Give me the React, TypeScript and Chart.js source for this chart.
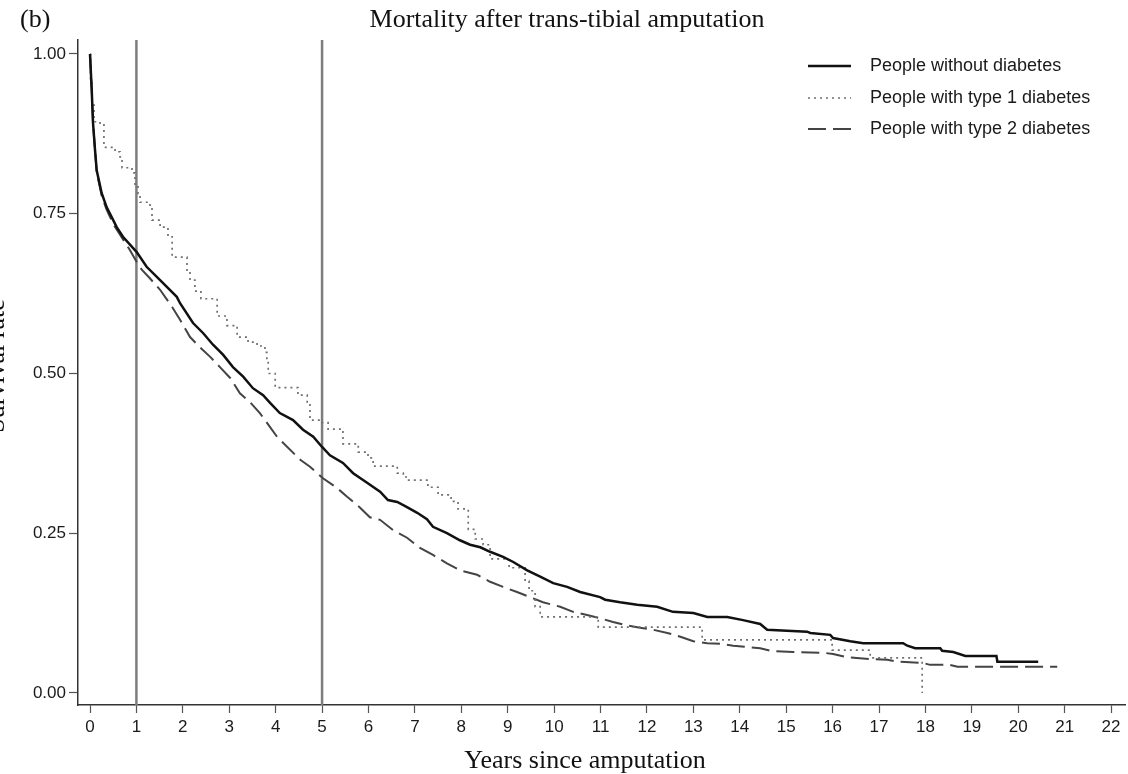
import { useEffect, useRef } from "react";
import { Chart, registerables } from "chart.js";

Chart.register(...registerables);

const chartTitle = "Mortality after trans-tibial amputation";
const panelLabel = "(b)";
const xAxisTitle = "Years since amputation";
const yAxisTitle = "Survival rate";

const xTickValues = [0, 1, 2, 3, 4, 5, 6, 7, 8, 9, 10, 11, 12, 13, 14, 15, 16, 17, 18, 19, 20, 21, 22];
const yTickValues = [0, 0.25, 0.5, 0.75, 1];
const referenceYears = [1, 5];

const seriesLabels = ["People without diabetes", "People with type 1 diabetes", "People with type 2 diabetes"];

// People without diabetes
const noDiabetesYears = [
  0, 0.037, 0.065, 0.108, 0.144, 0.252, 0.36, 0.5, 0.575, 0.71, 1.006, 1.22, 1.51, 1.87, 1.94, 2.22, 2.44,
  2.65, 2.87, 3.08, 3.3, 3.51, 3.73, 3.88, 4.09, 4.375, 4.59, 4.81, 5.0, 5.17, 5.45, 5.67, 5.97, 6.25, 6.42,
  6.62, 6.83, 7.05, 7.26, 7.39, 7.69, 7.97, 8.19, 8.41, 8.62, 8.9, 9.12, 9.42, 9.7, 9.98, 10.28, 10.56,
  10.99, 11.1, 11.42, 11.79, 12.22, 12.56, 13.0, 13.3, 13.73, 14.07, 14.44, 14.59, 15.45, 15.52, 15.95,
  16.01, 16.38, 16.66, 17.52, 17.61, 17.78, 18.32, 18.36, 18.6, 18.86, 19.53, 19.55, 20.43,
];
const noDiabetesSurvival = [
  1.0, 0.944, 0.892, 0.85, 0.818, 0.782, 0.76, 0.74, 0.729, 0.714, 0.69, 0.667, 0.646, 0.62, 0.61, 0.579,
  0.563, 0.545, 0.529, 0.51, 0.495, 0.477, 0.466, 0.454, 0.438, 0.427, 0.412, 0.401, 0.385, 0.372, 0.36,
  0.344, 0.329, 0.315, 0.302, 0.299, 0.291, 0.282, 0.272, 0.26, 0.25, 0.239, 0.232, 0.228, 0.221, 0.213,
  0.205, 0.192, 0.182, 0.172, 0.166, 0.158, 0.15, 0.146, 0.142, 0.138, 0.135, 0.127, 0.125, 0.119, 0.119,
  0.114, 0.108, 0.099, 0.096, 0.094, 0.091, 0.086, 0.081, 0.078, 0.078, 0.074, 0.07, 0.07, 0.066, 0.064,
  0.058, 0.058, 0.049, 0.049,
];

// People with type 1 diabetes (step curve: value after each drop)
const type1Years = [
  0, 0.01, 0.043, 0.086, 0.216, 0.3, 0.54, 0.647, 0.69, 0.905, 0.97, 1.034, 1.078, 1.293, 1.336, 1.51, 1.68,
  1.77, 2.09, 2.155, 2.26, 2.39, 2.74, 2.95, 3.17, 3.405, 3.6, 3.77, 3.81, 3.84, 3.99, 4.48, 4.68, 4.74,
  4.98, 5.13, 5.45, 5.78, 5.99, 6.1, 6.62, 6.75, 6.83, 7.28, 7.5, 7.78, 7.93, 8.15, 8.3, 8.47, 8.62, 9.03,
  9.375, 9.46, 9.59, 9.7, 10.95, 13.19, 15.99, 16.81, 17.93,
];
const type1Survival = [
  1.0, 0.96, 0.92, 0.894, 0.889, 0.854, 0.847, 0.839, 0.822, 0.814, 0.792, 0.782, 0.768, 0.761, 0.74, 0.729,
  0.714, 0.682, 0.66, 0.646, 0.629, 0.617, 0.59, 0.575, 0.557, 0.549, 0.543, 0.533, 0.52, 0.5, 0.478,
  0.466, 0.453, 0.427, 0.423, 0.413, 0.39, 0.377, 0.368, 0.355, 0.344, 0.338, 0.333, 0.322, 0.31, 0.3,
  0.288, 0.256, 0.241, 0.232, 0.21, 0.196, 0.175, 0.16, 0.135, 0.119, 0.103, 0.083, 0.067, 0.055, 0.0,
];

// People with type 2 diabetes
const type2Years = [
  0, 0.037, 0.065, 0.108, 0.144, 0.252, 0.36, 0.5, 0.647, 0.862, 1.01, 1.12, 1.29, 1.51, 1.77, 1.94, 2.155,
  2.37, 2.59, 2.8, 3.02, 3.23, 3.45, 3.66, 3.88, 4.03, 4.53, 4.74, 5.02, 5.32, 5.54, 5.82, 6.03, 6.25, 6.53,
  6.83, 7.11, 7.39, 7.69, 7.97, 8.34, 8.62, 8.9, 9.2, 9.48, 9.76, 10.13, 10.41, 10.71, 10.99, 11.27, 11.57,
  11.85, 12.13, 12.44, 12.72, 13.0, 13.3, 13.58, 13.86, 14.16, 14.44, 14.66, 15.15, 15.8, 16.01, 16.31,
  16.81, 17.18, 17.39, 17.95, 18.1, 18.53, 18.69, 20.84,
];
const type2Survival = [
  1.0, 0.944, 0.892, 0.85, 0.815, 0.778, 0.756, 0.734, 0.717, 0.693, 0.674, 0.662, 0.649, 0.631, 0.604,
  0.584, 0.557, 0.541, 0.526, 0.51, 0.493, 0.469, 0.455, 0.438, 0.416, 0.401, 0.365, 0.354, 0.336, 0.321,
  0.307, 0.29, 0.275, 0.271, 0.255, 0.243, 0.227, 0.216, 0.203, 0.192, 0.185, 0.174, 0.166, 0.158, 0.15,
  0.142, 0.135, 0.127, 0.122, 0.117, 0.111, 0.106, 0.102, 0.099, 0.094, 0.088, 0.081, 0.078, 0.077, 0.074,
  0.072, 0.07, 0.066, 0.064, 0.063, 0.061, 0.056, 0.053, 0.052, 0.049, 0.047, 0.044, 0.044, 0.041, 0.041,
];

const SERIF = '"Liberation Serif", "Times New Roman", serif';
const SANS = '"Liberation Sans", Arial, sans-serif';

const toPoints = (xs: number[], ys: number[]) => xs.map((x, i) => ({ x, y: ys[i] }));

const refLinesPlugin = {
  id: "refLines",
  beforeDatasetsDraw(chart: any) {
    const { ctx, chartArea, scales } = chart;
    ctx.save();
    ctx.strokeStyle = "#7d7d7d";
    ctx.lineWidth = 2.5;
    referenceYears.forEach((yr) => {
      const px = scales.x.getPixelForValue(yr);
      ctx.beginPath();
      ctx.moveTo(px, chartArea.top);
      ctx.lineTo(px, chartArea.bottom);
      ctx.stroke();
    });
    ctx.restore();
  },
};

const textPlugin = {
  id: "texts",
  afterDraw(chart: any) {
    const { ctx } = chart;
    ctx.save();
    ctx.fillStyle = "#111";
    ctx.font = `26px ${SERIF}`;
    ctx.textBaseline = "alphabetic";
    ctx.textAlign = "center";
    ctx.fillText(chartTitle, 567, 27);
    ctx.textAlign = "left";
    ctx.fillText(panelLabel, 20, 27);
    ctx.textAlign = "center";
    ctx.fillText(xAxisTitle, 585, 768);
    ctx.save();
    ctx.translate(4, 366);
    ctx.rotate(-Math.PI / 2);
    ctx.fillText(yAxisTitle, 0, 0);
    ctx.restore();

    // legend
    const rows = [66, 98, 129];
    chart.data.datasets.forEach((ds: any, i: number) => {
      const y = rows[i];
      ctx.save();
      ctx.strokeStyle = ds.borderColor;
      ctx.lineWidth = ds.borderWidth;
      ctx.setLineDash(ds.borderDash || []);
      ctx.beginPath();
      ctx.moveTo(808, y);
      ctx.lineTo(851, y);
      ctx.stroke();
      ctx.restore();
      ctx.font = `18px ${SANS}`;
      ctx.fillStyle = "#1a1a1a";
      ctx.textAlign = "left";
      ctx.textBaseline = "middle";
      ctx.fillText(ds.label, 870, y);
    });
    ctx.restore();
  },
};

export default function App() {
  const canvasRef = useRef<HTMLCanvasElement | null>(null);

  useEffect(() => {
    document.body.style.margin = "0";
    const canvas = canvasRef.current;
    if (!canvas) return;
    const chart = new Chart(canvas, {
      type: "line",
      data: {
        datasets: [
          {
            label: seriesLabels[0],
            data: toPoints(noDiabetesYears, noDiabetesSurvival),
            borderColor: "#111111",
            borderWidth: 2.5,
            pointRadius: 0,
            tension: 0,
            fill: false,
          },
          {
            label: seriesLabels[1],
            data: toPoints(type1Years, type1Survival),
            borderColor: "#707070",
            borderWidth: 1.7,
            borderDash: [2, 4],
            pointRadius: 0,
            stepped: true,
            fill: false,
          },
          {
            label: seriesLabels[2],
            data: toPoints(type2Years, type2Survival),
            borderColor: "#444444",
            borderWidth: 2,
            borderDash: [18, 7],
            pointRadius: 0,
            tension: 0,
            fill: false,
          },
        ],
      },
      options: {
        animation: false,
        responsive: false,
        maintainAspectRatio: false,
        layout: { padding: { top: 40, right: 3, left: 0, bottom: 0 } },
        plugins: {
          legend: { display: false },
          title: { display: false },
          tooltip: { enabled: false },
        },
        scales: {
          x: {
            type: "linear",
            min: -0.2586,
            max: 22.3,
            afterFit: (scale: any) => {
              scale.height = 69;
            },
            afterBuildTicks: (axis: any) => {
              axis.ticks = xTickValues.map((v) => ({ value: v }));
            },
            grid: {
              display: true,
              drawOnChartArea: false,
              drawTicks: true,
              tickLength: 8,
              tickColor: "#555",
              tickWidth: 1.2,
            },
            border: { display: true, color: "#333", width: 1.5 },
            ticks: {
              autoSkip: false,
              maxRotation: 0,
              padding: 4,
              color: "#1a1a1a",
              font: { family: SANS, size: 17 },
              callback: (v: any) => String(v),
            },
          },
          y: {
            type: "linear",
            min: -0.0188,
            max: 1.0219,
            afterFit: (scale: any) => {
              scale.width = 78;
            },
            afterBuildTicks: (axis: any) => {
              axis.ticks = yTickValues.map((v) => ({ value: v }));
            },
            grid: {
              display: true,
              drawOnChartArea: false,
              drawTicks: true,
              tickLength: 9,
              tickColor: "#555",
              tickWidth: 1.2,
            },
            border: { display: true, color: "#333", width: 1.5 },
            ticks: {
              padding: 3,
              color: "#1a1a1a",
              font: { family: SANS, size: 17 },
              callback: (v: any) => Number(v).toFixed(2),
            },
          },
        },
      },
      plugins: [refLinesPlugin, textPlugin],
    });
    return () => chart.destroy();
  }, []);

  return (
    <div style={{ width: 1128, height: 774 }}>
      <canvas ref={canvasRef} width={1128} height={774} style={{ display: "block", width: 1128, height: 774 }} />
    </div>
  );
}
